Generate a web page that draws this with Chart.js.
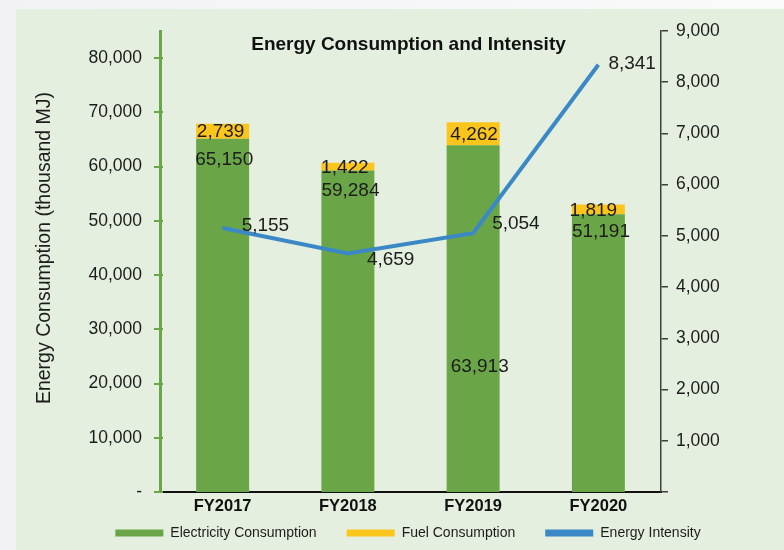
<!DOCTYPE html>
<html><head><meta charset="utf-8">
<script src="https://cdn.jsdelivr.net/npm/chart.js@4.4.0/dist/chart.umd.min.js"></script>
<style>
html,body{margin:0;padding:0;width:784px;height:550px;overflow:hidden;background:linear-gradient(90deg,#f2f2f4,#fafafb);}
#panel{position:absolute;left:16px;top:9px;width:768px;height:541px;background:#e4efdf;}
#wrap{position:absolute;left:0;top:0;width:784px;height:550px;}
</style></head><body>
<div id="panel"></div>
<div id="wrap"><canvas id="c" width="784" height="550"></canvas></div>
<script>
// ---- data ----
const categories = ['FY2017', 'FY2018', 'FY2019', 'FY2020'];
const electricity = [65150, 59284, 63913, 51191];
const fuel = [2739, 1422, 4262, 1819];
const intensity = [5155, 4659, 5054, 8341];
const leftTickValues = [0, 10000, 20000, 30000, 40000, 50000, 60000, 70000, 80000];
const rightTickValues = [0, 1000, 2000, 3000, 4000, 5000, 6000, 7000, 8000, 9000];
const leftMax = 85000;
const rightMax = 9000;
const seriesNames = ['Electricity Consumption', 'Fuel Consumption', 'Energy Intensity'];
const chartTitle = 'Energy Consumption and Intensity';
const leftAxisTitle = 'Energy Consumption (thousand MJ)';

// ---- styles ----
const FONT = '"Liberation Sans", Arial, Helvetica, sans-serif';
const GREEN = '#6aa647';
const YELLOW = '#fcc51c';
const BLUE = '#3a88c6';
const TEXT = '#1c1c1c';
const elecLabelDx = [-1, 0, 4, 0], elecLabelDy = [21, 20, 221, 17];
const fuelLabelDx = [-2, -3, 1, -5];
const intLabelDx = [19, 19, 19, 10], intLabelDy = [-2, 6, -9, -1];

const fmt = v => Number(v).toLocaleString('en-US');

const decor = {
  id: 'decor',
  afterDraw(chart) {
    const ctx = chart.ctx, ca = chart.chartArea;
    const yL = chart.scales.y, xS = chart.scales.x;
    ctx.save();
    // left axis tick marks (crossing)
    ctx.strokeStyle = GREEN; ctx.lineWidth = 2;
    leftTickValues.forEach(v => {
      const py = Math.round(yL.getPixelForValue(v));
      ctx.beginPath(); ctx.moveTo(ca.left - 6, py); ctx.lineTo(ca.left + 3, py); ctx.stroke();
    });
    // category labels
    ctx.fillStyle = '#111';
    ctx.font = 'bold 16.5px ' + FONT;
    ctx.textAlign = 'center'; ctx.textBaseline = 'middle';
    categories.forEach((c, i) => {
      ctx.fillText(c, xS.getPixelForValue(i), ca.bottom + 14);
    });
    // title
    ctx.font = 'bold 19px ' + FONT;
    ctx.fillText(chartTitle, (ca.left + ca.right) / 2 - 2, 45);
    // left axis title
    ctx.save();
    ctx.translate(45, 248);
    ctx.rotate(-Math.PI / 2);
    ctx.font = '19.5px ' + FONT;
    ctx.fillStyle = TEXT;
    ctx.fillText(leftAxisTitle, 0, 0);
    ctx.restore();
    // data labels
    ctx.font = '19px ' + FONT;
    ctx.fillStyle = TEXT;
    ctx.textBaseline = 'middle';
    const mE = chart.getDatasetMeta(0), mF = chart.getDatasetMeta(1), mL = chart.getDatasetMeta(2);
    electricity.forEach((v, i) => {
      const b = mE.data[i];
      ctx.textAlign = 'left';
      ctx.fillText(fmt(v), b.x - b.width / 2 + elecLabelDx[i], b.y + elecLabelDy[i]);
    });
    fuel.forEach((v, i) => {
      const b = mF.data[i];
      ctx.textAlign = 'center';
      ctx.fillText(fmt(v), b.x + fuelLabelDx[i], (b.y + b.base) / 2 + 1);
    });
    intensity.forEach((v, i) => {
      const p = mL.data[i];
      ctx.textAlign = 'left';
      ctx.fillText(fmt(v), p.x + intLabelDx[i], p.y + intLabelDy[i]);
    });
    ctx.restore();
  }
};

new Chart(document.getElementById('c'), {
  data: {
    labels: categories,
    datasets: [
      { type: 'bar', label: seriesNames[0], data: electricity, backgroundColor: GREEN, borderWidth: 0, yAxisID: 'y', order: 1, stack: 's' },
      { type: 'bar', label: seriesNames[1], data: fuel, backgroundColor: YELLOW, borderWidth: 0, yAxisID: 'y', order: 1, stack: 's' },
      { type: 'line', label: seriesNames[2], data: intensity, borderColor: BLUE, backgroundColor: BLUE, borderWidth: 4, pointRadius: 0, tension: 0, fill: false, yAxisID: 'y1', order: 0 }
    ]
  },
  options: {
    responsive: false,
    animation: false,
    devicePixelRatio: 1,
    layout: { padding: { top: 31, left: 32, right: 0, bottom: 0 } },
    datasets: { bar: { categoryPercentage: 0.423, barPercentage: 1 } },
    scales: {
      x: {
        stacked: true,
        grid: { display: false, drawTicks: false },
        border: { display: true, color: '#111', width: 2 },
        ticks: { display: false },
        afterFit(s) { s.height = 4; }
      },
      y: {
        position: 'left', stacked: true, min: 0, max: leftMax,
        grid: { display: false, drawTicks: false },
        border: { display: true, color: GREEN, width: 3 },
        afterBuildTicks(s) { s.ticks = leftTickValues.map(v => ({ value: v })); },
        ticks: {
          font: { family: FONT, size: 17.5 }, color: TEXT, padding: 18,
          callback: v => v === 0 ? '-' : fmt(v)
        },
        afterFit(s) { s.width = 128; }
      },
      y1: {
        position: 'right', min: 0, max: rightMax,
        grid: { display: true, drawOnChartArea: false, drawTicks: true, tickLength: 7, color: '#404040', lineWidth: 1.5 },
        border: { display: true, color: '#404040', width: 1.5 },
        afterBuildTicks(s) { s.ticks = rightTickValues.map(v => ({ value: v })); },
        ticks: {
          font: { family: FONT, size: 17.5 }, color: TEXT, padding: 8,
          callback: v => v === 0 ? '' : fmt(v)
        },
        afterFit(s) { s.width = 123; }
      }
    },
    plugins: {
      title: { display: false },
      tooltip: { enabled: false },
      legend: {
        position: 'bottom',
        labels: {
          boxWidth: 48, boxHeight: 7, padding: 30,
          font: { family: FONT, size: 14 }, color: TEXT,
          sort: (a, b) => a.datasetIndex - b.datasetIndex,
          generateLabels(chart) {
            const items = Chart.defaults.plugins.legend.labels.generateLabels(chart);
            items.forEach(it => { it.lineWidth = 0; it.strokeStyle = 'rgba(0,0,0,0)'; });
            return items;
          }
        }
      }
    }
  },
  plugins: [decor]
});
</script>
</body></html>
